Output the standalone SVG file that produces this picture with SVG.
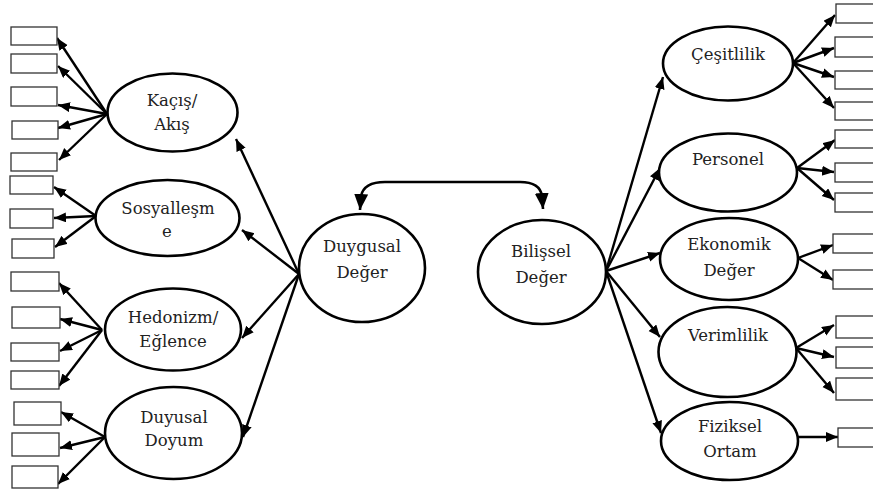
<svg xmlns="http://www.w3.org/2000/svg" width="873" height="492" viewBox="0 0 873 492">
<style>
.el{fill:#fff;stroke:#000;stroke-width:2.6}
.bx{fill:#fff;stroke:#333;stroke-width:1.3}
.ln{stroke:#000;stroke-width:2.4;fill:none;marker-end:url(#ah)}
text{font-family:'DejaVu Serif','Liberation Serif',serif;font-size:16.5px;fill:#222;text-anchor:middle}
</style>
<defs>
<marker id="ah" markerUnits="userSpaceOnUse" markerWidth="13" markerHeight="11" refX="12" refY="5" orient="auto"><path d="M0,0 L12,5 L0,10 z" fill="#000"/></marker>
<marker id="bh" markerUnits="userSpaceOnUse" markerWidth="18" markerHeight="16" refX="16" refY="7" orient="auto-start-reverse"><path d="M0,0 L16,7 L0,14 z" fill="#000"/></marker>
</defs>
<rect width="873" height="492" fill="#fff"/>
<g id="connectors">
<path d="M360,210 L361,196 Q364,182 385,182 L520,182 Q540,182 542,196 L543,209" stroke="#000" stroke-width="2.6" fill="none" marker-start="url(#bh)" marker-end="url(#bh)"/>
<line class="ln" x1="299" y1="274" x2="236" y2="139"/>
<line class="ln" x1="299" y1="274" x2="242" y2="230"/>
<line class="ln" x1="299" y1="274" x2="242" y2="338"/>
<line class="ln" x1="299" y1="274" x2="243" y2="437"/>
<line class="ln" x1="606" y1="271" x2="663" y2="77"/>
<line class="ln" x1="606" y1="271" x2="660" y2="168"/>
<line class="ln" x1="606" y1="271" x2="660" y2="253"/>
<line class="ln" x1="606" y1="271" x2="660" y2="337"/>
<line class="ln" x1="606" y1="271" x2="661" y2="433"/>
<line class="ln" x1="107" y1="114" x2="57" y2="38"/>
<line class="ln" x1="107" y1="114" x2="58" y2="66"/>
<line class="ln" x1="107" y1="114" x2="58" y2="105"/>
<line class="ln" x1="107" y1="114" x2="58" y2="128"/>
<line class="ln" x1="107" y1="114" x2="59" y2="160"/>
<line class="ln" x1="96" y1="216" x2="54" y2="187"/>
<line class="ln" x1="96" y1="216" x2="54" y2="218"/>
<line class="ln" x1="96" y1="216" x2="55" y2="247"/>
<line class="ln" x1="102" y1="330" x2="59" y2="283"/>
<line class="ln" x1="102" y1="330" x2="60" y2="319"/>
<line class="ln" x1="102" y1="330" x2="60" y2="351"/>
<line class="ln" x1="102" y1="330" x2="59" y2="386"/>
<line class="ln" x1="105" y1="437" x2="61" y2="412"/>
<line class="ln" x1="105" y1="437" x2="60" y2="448"/>
<line class="ln" x1="105" y1="437" x2="58" y2="484"/>
<line class="ln" x1="793" y1="63" x2="835" y2="15"/>
<line class="ln" x1="793" y1="63" x2="834" y2="48"/>
<line class="ln" x1="793" y1="63" x2="834" y2="77"/>
<line class="ln" x1="793" y1="63" x2="834" y2="108"/>
<line class="ln" x1="797" y1="168" x2="835" y2="140"/>
<line class="ln" x1="797" y1="168" x2="834" y2="172"/>
<line class="ln" x1="797" y1="168" x2="834" y2="200"/>
<line class="ln" x1="798" y1="258" x2="833" y2="245"/>
<line class="ln" x1="798" y1="258" x2="833" y2="280"/>
<line class="ln" x1="796" y1="348" x2="834" y2="325"/>
<line class="ln" x1="796" y1="348" x2="834" y2="357"/>
<line class="ln" x1="796" y1="348" x2="834" y2="393"/>
<line class="ln" x1="798" y1="437" x2="838" y2="437"/>
</g>
<g id="boxes-left">
<rect class="bx" x="11" y="27" width="46" height="18"/>
<rect class="bx" x="11" y="54" width="46" height="19"/>
<rect class="bx" x="11" y="87" width="46" height="19"/>
<rect class="bx" x="12" y="121" width="46" height="18"/>
<rect class="bx" x="11" y="153" width="46" height="18"/>
<rect class="bx" x="10" y="176" width="43" height="18"/>
<rect class="bx" x="10" y="209" width="43" height="19"/>
<rect class="bx" x="12" y="239" width="42" height="19"/>
<rect class="bx" x="11" y="272" width="48" height="19"/>
<rect class="bx" x="12" y="307" width="48" height="21"/>
<rect class="bx" x="11" y="343" width="48" height="18"/>
<rect class="bx" x="11" y="371" width="48" height="18"/>
<rect class="bx" x="14" y="402" width="47" height="23"/>
<rect class="bx" x="12" y="433" width="47" height="23"/>
<rect class="bx" x="12" y="466" width="46" height="22"/>
</g>
<g id="boxes-right">
<rect class="bx" x="836" y="4" width="50" height="19"/>
<rect class="bx" x="835" y="37" width="50" height="20"/>
<rect class="bx" x="835" y="71" width="50" height="18"/>
<rect class="bx" x="835" y="102" width="50" height="18"/>
<rect class="bx" x="835" y="130" width="50" height="18"/>
<rect class="bx" x="835" y="163" width="50" height="19"/>
<rect class="bx" x="835" y="193" width="50" height="19"/>
<rect class="bx" x="833" y="234" width="50" height="19"/>
<rect class="bx" x="833" y="270" width="50" height="19"/>
<rect class="bx" x="836" y="316" width="50" height="22"/>
<rect class="bx" x="836" y="347" width="50" height="21"/>
<rect class="bx" x="836" y="378" width="50" height="22"/>
<rect class="bx" x="838" y="428" width="50" height="19"/>
</g>
<g id="kacis"><ellipse class="el" cx="172.5" cy="112.5" rx="65" ry="39"/><text x="172" y="106">Kaçış/</text><text x="172" y="130">Akış</text></g>
<g id="sosyallesme"><ellipse class="el" cx="167.5" cy="218" rx="72" ry="38"/><text x="168" y="214">Sosyalleşm</text><text x="167" y="237">e</text></g>
<g id="hedonizm"><ellipse class="el" cx="173" cy="329.5" rx="68" ry="41"/><text x="173" y="323">Hedonizm/</text><text x="173" y="347">Eğlence</text></g>
<g id="duyusal"><ellipse class="el" cx="173.5" cy="433" rx="68.5" ry="46"/><text x="174" y="423">Duyusal</text><text x="174" y="446">Doyum</text></g>
<g id="duygusal"><ellipse class="el" cx="362" cy="268" rx="63" ry="54"/><text x="362" y="252">Duygusal</text><text x="362" y="278">Değer</text></g>
<g id="bilissel"><ellipse class="el" cx="542" cy="272" rx="64" ry="52"/><text x="541" y="257">Bilişsel</text><text x="541" y="283">Değer</text></g>
<g id="cesitlilik"><ellipse class="el" cx="728" cy="63.5" rx="65" ry="37"/><text x="728" y="60">Çeşitlilik</text></g>
<g id="personel"><ellipse class="el" cx="728" cy="172.5" rx="69" ry="39"/><text x="728" y="165">Personel</text></g>
<g id="ekonomik"><ellipse class="el" cx="729" cy="259" rx="69" ry="41"/><text x="729" y="250">Ekonomik</text><text x="729" y="276">Değer</text></g>
<g id="verimlilik"><ellipse class="el" cx="727.5" cy="352" rx="69" ry="45"/><text x="728" y="341">Verimlilik</text></g>
<g id="fiziksel"><ellipse class="el" cx="729.5" cy="441" rx="68.5" ry="39"/><text x="730" y="432">Fiziksel</text><text x="730" y="457">Ortam</text></g>
</svg>
